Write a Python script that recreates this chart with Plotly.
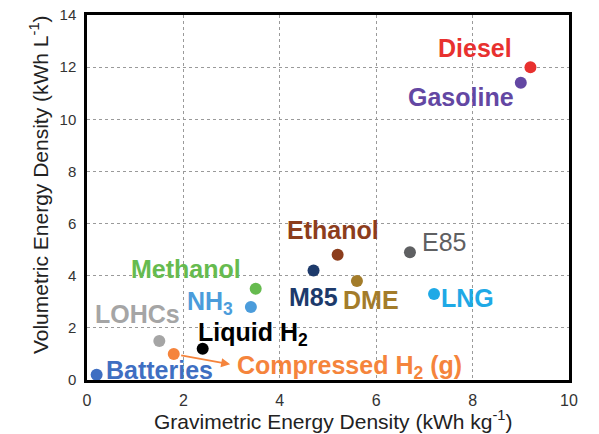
import plotly.graph_objects as go

# energy carriers: gravimetric (kWh/kg) vs volumetric (kWh/L)
names = ["Diesel", "Gasoline", "Ethanol", "E85", "M85", "DME", "LNG", "Methanol",
         "NH3", "LOHCs", "Liquid H2", "Compressed H2", "Batteries"]
grav = [9.2, 9.0, 5.2, 6.7, 4.7, 5.6, 7.2, 3.5, 3.4, 1.5, 2.4, 1.8, 0.2]
vol = [12.0, 11.4, 4.8, 4.9, 4.2, 3.8, 3.3, 3.5, 2.8, 1.5, 1.2, 1.0, 0.2]
colors = ["#e8312f", "#6347a3", "#8c3d1c", "#5f6062", "#1d3a6b", "#a37c2a", "#1ea9e6",
          "#66bb4f", "#4b9cdb", "#a5a5a5", "#000000", "#f5843c", "#3f6fc2"]
labels = ["Diesel", "Gasoline", "Ethanol", "E85", "M85", "DME", "LNG", "Methanol",
          "NH<sub>3</sub>", "LOHCs", "Liquid H<sub>2</sub>", "Compressed H<sub>2</sub> (g)", "Batteries"]

# label centres in data units
lab_x = [8.05, 7.75, 5.1, 7.4, 4.7, 5.9, 7.9, 2.05, 2.55, 1.05, 3.45, 5.45, 1.5]
lab_y = [12.75, 10.85, 5.75, 5.3, 3.2, 3.05, 3.15, 4.25, 2.95, 2.55, 1.75, 0.5, 0.4]
bold = [True] * 13
bold[3] = False

fig = go.Figure()
fig.add_trace(go.Scatter(
    x=grav, y=vol, mode="markers", text=names,
    marker=dict(color=colors, size=12),
    showlegend=False
))

for lx, ly, t, c, b in zip(lab_x, lab_y, labels, colors, bold):
    fig.add_annotation(x=lx, y=ly, text=f"<b>{t}</b>" if b else t, showarrow=False,
                       font=dict(family="Liberation Sans, Arial", size=25, color=c))

# arrow from compressed H2 point
fig.add_annotation(x=2.97, y=0.6, ax=grav[11], ay=vol[11], axref="x", ayref="y",
                   xref="x", yref="y", text="", showarrow=True, arrowhead=2,
                   arrowsize=1, arrowwidth=1.8, arrowcolor="#f5843c", standoff=0, startstandoff=6)

# axis titles placed by hand
title_font = dict(family="Liberation Sans, Arial", size=21, color="#222222")
fig.add_annotation(x=0.51, y=0, xref="paper", yref="paper", yanchor="middle", yshift=-40,
                   text="Gravimetric Energy Density (kWh kg<sup>-1</sup>)", showarrow=False,
                   font=title_font)
fig.add_annotation(x=0, y=0.534, xref="paper", yref="paper", xanchor="center", xshift=-48,
                   textangle=-90, text="Volumetric Energy Density (kWh L<sup>-1</sup>)",
                   showarrow=False, font=title_font)

axis_common = dict(showline=True, linecolor="black", linewidth=2.5, mirror=True,
                   showgrid=True, gridcolor="#9a9a9a", griddash="dot", gridwidth=1,
                   zeroline=False, ticks="", ticklabeloverflow="allow", automargin=False)

fig.update_xaxes(range=[0, 10], dtick=2, ticklabelstandoff=4,
                 tickfont=dict(size=16, color="#333333"), **axis_common)
fig.update_yaxes(range=[0, 14], dtick=2, ticklabelstandoff=5,
                 tickfont=dict(size=15, color="#333333"), **axis_common)

fig.update_layout(
    width=599, height=434,
    margin=dict(l=87, r=30, t=15, b=54),
    plot_bgcolor="white", paper_bgcolor="white",
    font=dict(family="Liberation Sans, Arial"),
)

# drop the default page margin so the figure sits at the window corner
fig.write_html("out.html", config={"displayModeBar": False},
               post_script="document.body.style.margin='0';")
